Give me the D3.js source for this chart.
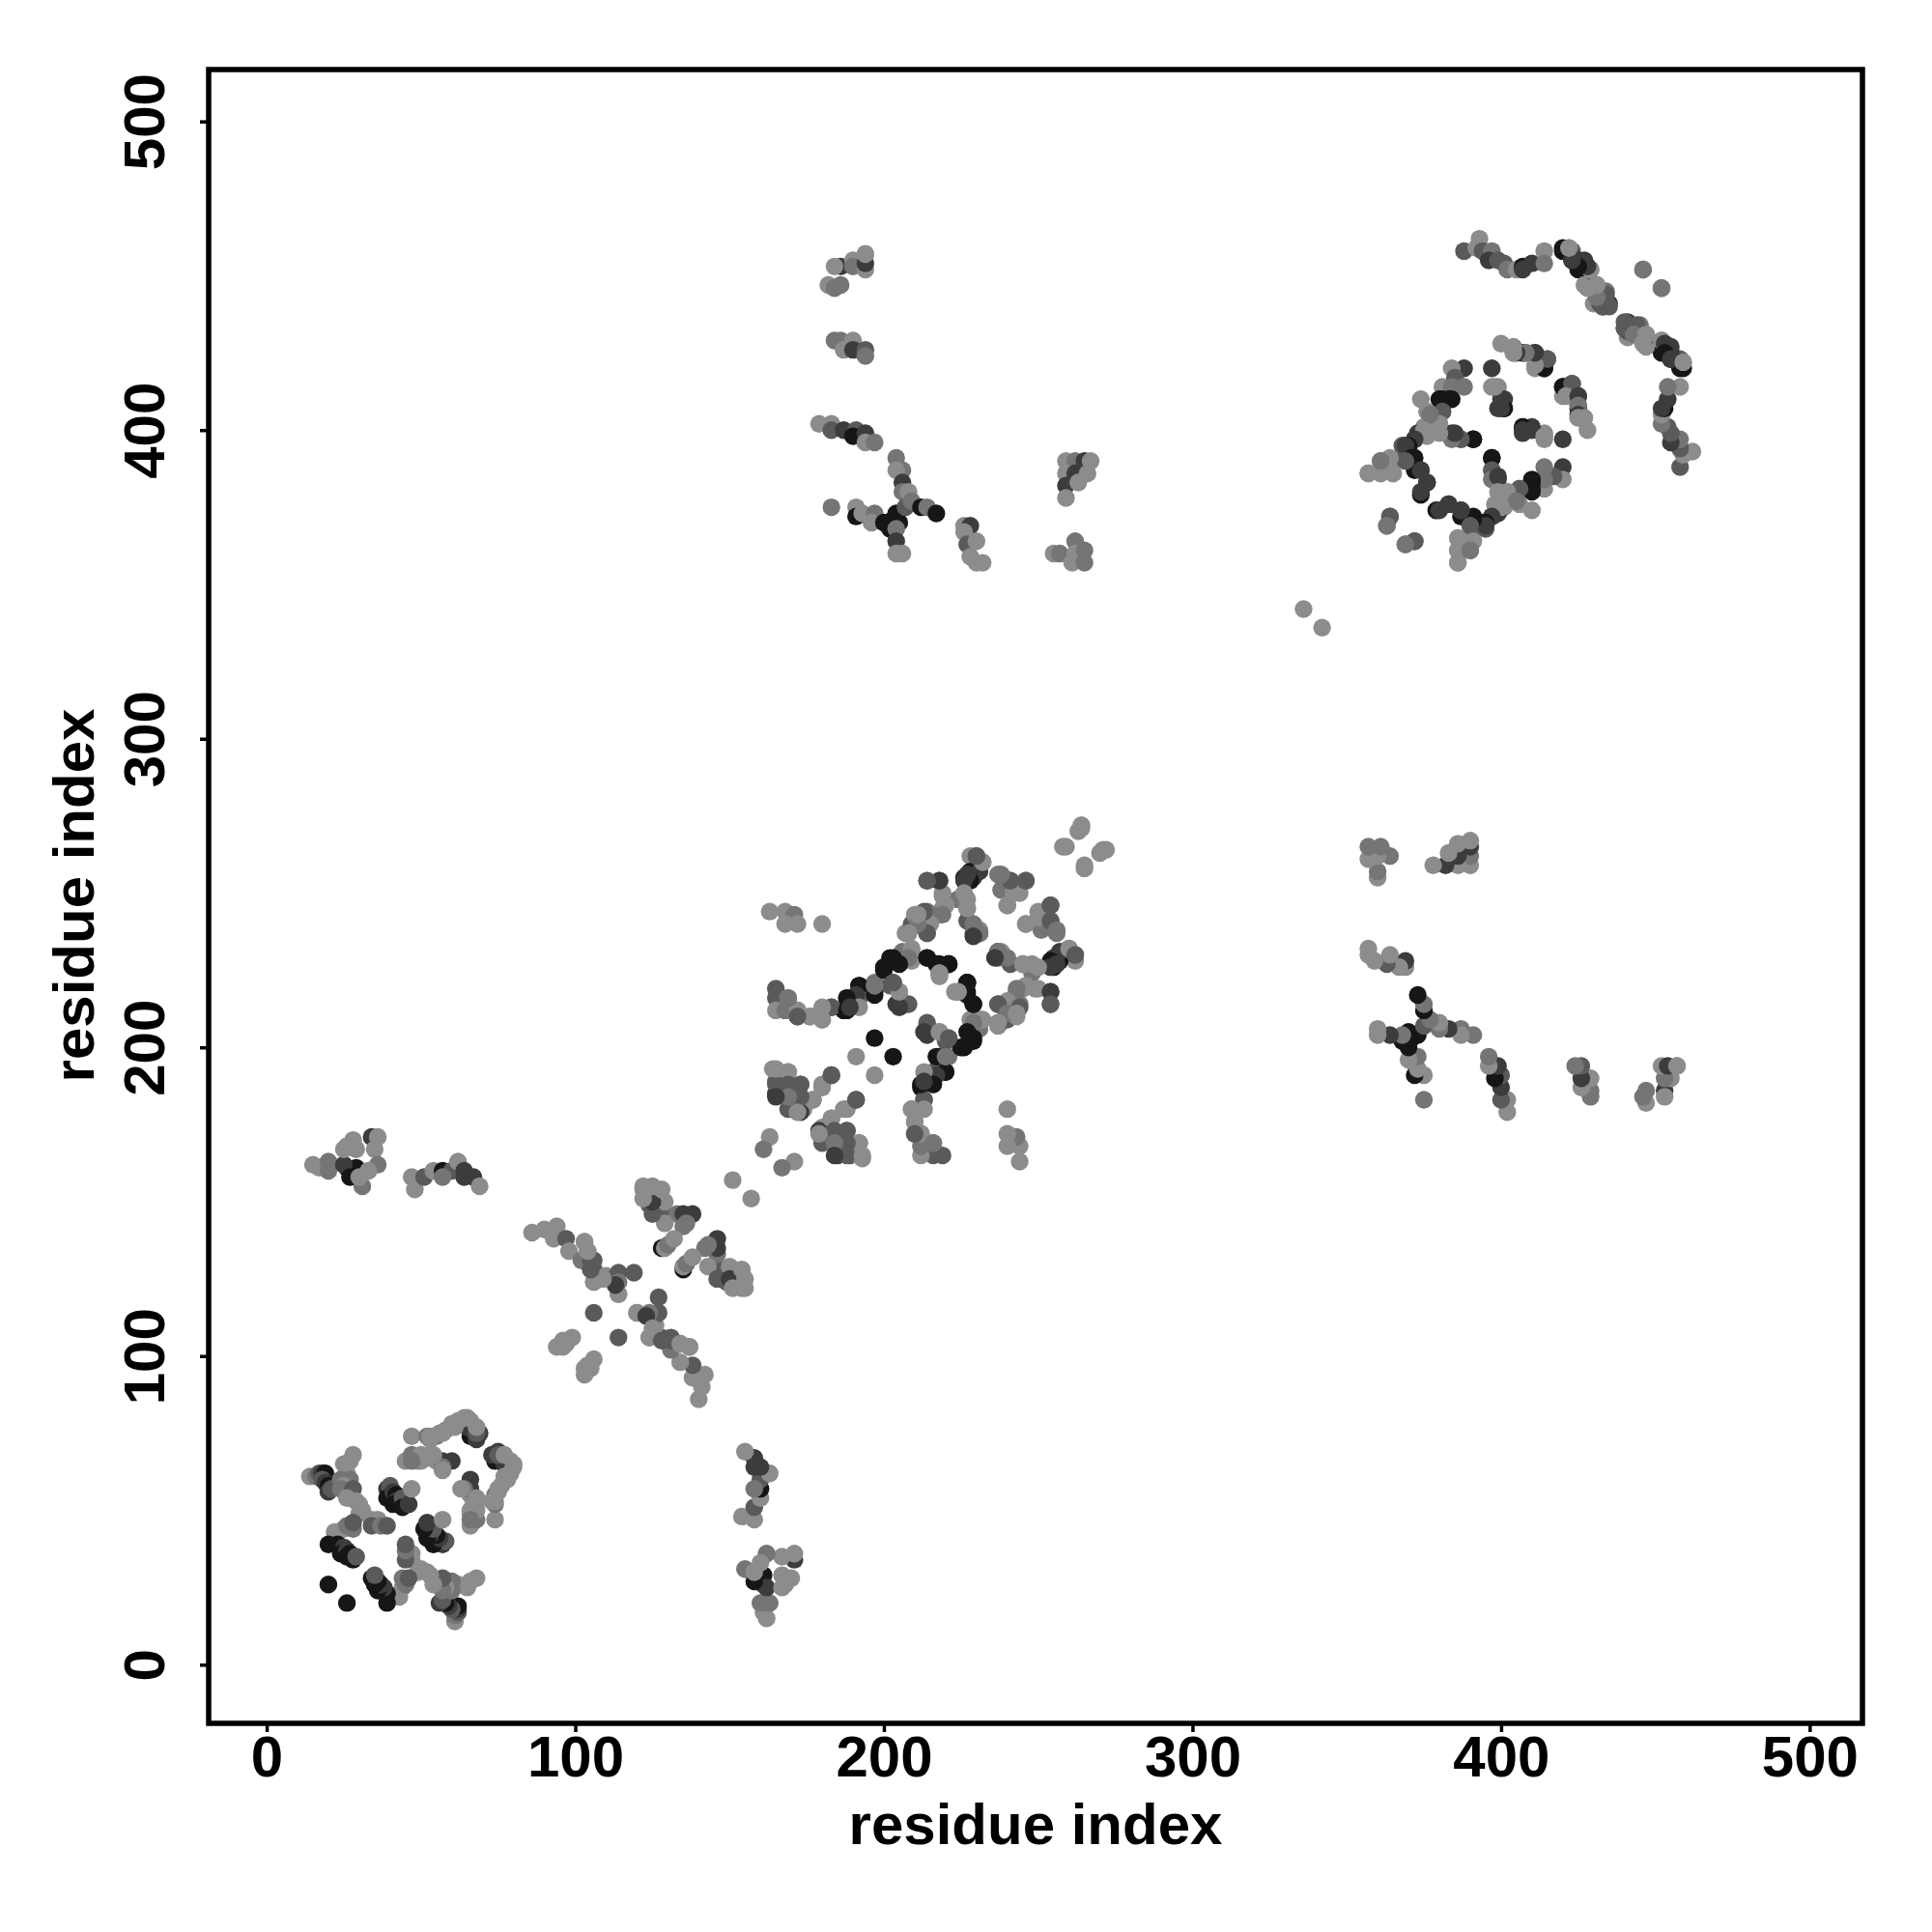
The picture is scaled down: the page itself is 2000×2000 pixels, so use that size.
<!DOCTYPE html>
<html><head><meta charset="utf-8">
<script src="https://cdn.jsdelivr.net/npm/d3@7"></script>
<style>html,body{margin:0;padding:0;background:#fff}svg{display:block}</style>
</head><body><svg id="c" width="2000" height="2000"></svg>
<script>
// Contacts: [residue i, residue j, shade level 0 (darkest) .. 4 (lightest)].
// The map is symmetric, so each contact is shown at (i,j) and (j,i).
const blockA=[[14,61,4],[16,61,3],[17,62,2],[18,62,1],[19,62,0],[18,60,2],[19,59,1],[20,58,0],[20,56,1],[21,57,2],
[28,68,4],[27,66,4],[25,65,4],[26,62,4],[24,60,3],[27,60,3],[25,58,4],[24,57,3],[28,57,2],[26,54,4],[29,53,4],[30,52,4],[31,50,4],[30,49,4],
[34,47,4],[36,47,4],[34,45,2],[37,45,3],[39,45,2],[22,43,4],[25,44,4],[26,45,3],[28,44,3],[28,46,2],
[20,39,0],[23,39,0],[24,38,0],[25,38,1],[24,36,0],[26,37,1],[27,36,0],[26,35,0],[28,34,0],[29,35,2],[20,26,0],
[39,57,1],[40,58,2],[39,54,0],[41,56,1],[42,55,0],[42,53,1],[41,52,0],[43,52,0],[44,54,2],[44,51,0],[46,52,1],[47,57,4],
[47,74,4],[52,74,3],[53,74,4],[55,74,3],[56,75,4],[58,76,4],[60,78,4],[62,79,4],[66,74,0],[65,77,1],[64,80,4],[66,79,4],[67,76,1],[69,75,1],
[45,66,4],[47,68,3],[49,66,4],[50,68,4],[52,67,4],[53,68,4],[55,66,4],[57,66,1],[60,66,1],
[68,73,1],[68,75,2],[68,77,4],[65,80,4],[61,77,4],[57,75,4],[57,64,3],[57,63,4],[54,68,4],[50,66,4],[47,66,3],[53,73,4]];
const blockB=[[15,162,4],[17,161,4],[20,163,3],[20,160,3],[26,161,0],[29,161,0],[25,162,1],[27,158,0],[28,170,4],[34,171,1],[36,171,4],[35,167,4],[29,167,4],[25,167,4],[26,168,4],[36,162,3],[33,160,4],[31,155,3],[30,158,4],
[48,154,4],[47,158,4],[51,158,2],[54,160,4],[57,160,0],[60,160,2],[57,158,3],[62,163,4],[64,160,1],[64,158,1],[67,158,1],[69,155,4]];
const blockC=[[86,140,4],[90,141,4],[94,142,4],[93,138,4],[97,138,2],[98,134,4],[103,137,4],[104,134,4],[102,131,3],[106,131,2],[106,128,2],[106,124,4],[110,126,4],[112,125,3],[114,127,2],[119,127,2],[114,124,3],[114,120,4],
[106,114,2],[94,103,4],[96,103,4],[97,104,4],[99,106,4],[96,105,4],[120,114,4],[123,113,1],[109,125,4],[106,124,4],[105,128,2],[105,131,2],[104,134,4],[103,137,4],
[122,154,4],[124,153,4],[127,153,4],[125,150,4],[124,149,2],[128,149,4],[127,148,3],[129,146,2],[133,146,3],[135,146,1],[138,146,1],[136,143,3],[135,142,3],[128,135,0],[129,135,4],[130,136,3],[132,138,4],
[129,143,4],[129,150,4],[125,146,2],[125,150,1],[128,154,4],[125,155,4],[122,151,4],[122,155,4]];
const blockD=[[163,244,4],[168,244,4],[171,243,3],[168,240,4],[172,240,4],[180,240,4],
[165,219,2],[165,216,2],[165,212,4],[169,216,4],[168,212,3],[172,212,2],[172,210,4],[176,210,4],[180,209,4],[180,212,4],[183,213,2],[187,212,0],[188,216,4],[192,220,0],[192,216,2],[197,218,1],[197,221,3],
[203,221,2],[204,214,1],[205,218,4],[207,214,2],
[200,226,0],[202,229,0],[203,228,0],[206,231,3],[209,232,4],[209,228,4],[207,237,4],[209,239,1],[209,240,2],[210,243,4],[214,244,3],[214,240,2],[214,237,3],
[214,254,3],[218,254,1],[219,249,4],[219,245,4],[218,243,3],[224,248,3],[227,248,4],[227,245,3],[227,241,2],[229,237,2],[231,237,0],[231,238,4],
[228,262,4],[230,262,2],[232,260,3],[228,257,0],[226,255,0],[229,255,1],[231,257,1],
[237,256,3],[241,254,2],[246,254,2],[239,252,0],[238,251,3],[242,250,4],[240,246,4],
[240,246,4],[244,250,4],[246,254,2],[241,254,2],[238,256,3],[228,254,0],[232,260,4],[230,262,2],[226,254,1],[227,256,1],
[231,237,3],[229,240,3],[229,236,1],[227,245,4],[226,250,4],[220,246,4],[219,250,4],[218,254,1],[214,254,2],
[219,243,3],[215,240,4],[213,244,2],[214,237,2],[211,240,3],[211,243,4],[208,237,4],
[209,231,4],[208,229,3],[205,227,0],[200,225,0],[203,229,0],[202,220,2],[192,220,0],[197,217,0],[191,217,1],[192,213,4],[183,213,2],[188,212,0],[188,216,0],[189,213,1],[180,213,4],[180,209,4],[176,210,4],[172,212,4],[172,210,2],[169,216,3],
[214,229,0],[218,227,0],[221,227,0],[218,224,4],[221,227,0],[217,227,0],[214,229,0],[221,227,0],[218,224,4],[218,224,4],[218,223,4],
[208,214,2],[205,213,1],[205,218,4],[203,221,2],[197,220,2],[197,220,3],
[197,203,0],[191,197,4],
[164,193,4],[169,192,4],[165,189,2],[165,185,1],[168,188,1],[169,180,2],[173,188,2],[172,185,2],[174,180,4],[173,179,1],[177,183,4],[180,188,4],[183,191,2],[180,187,4],[183,191,2],[177,183,4],
[173,188,2],[165,192,4],[169,192,4],[169,188,2],[173,184,2],[169,184,3],[172,179,4],[165,188,2],[165,184,1],[165,193,4],
[163,171,4],[161,167,3],[151,157,4],[258,265,4],[259,265,4],[263,270,4],[264,271,4],[264,272,4]];
const blockE=[[194,457,4],[186,453,1],[184,453,4],[190,455,4],[190,453,3],[194,452,4],[194,454,1],[194,457,4],[182,447,4],[184,446,3],[186,447,3],
[184,429,3],[186,429,3],[190,429,4],[187,426,4],[190,426,1],[194,426,2],[194,424,3],
[179,402,4],[183,402,4],[183,400,2],[187,400,1],[191,400,2],[190,398,0],[194,399,1],[194,396,4],[197,396,3],
[204,391,3],[206,387,3],[204,387,4],[206,383,1],[206,380,3],[208,380,4],
[183,375,3],[191,375,4],[191,372,0],[193,373,4],[197,373,3],[196,370,4],[200,370,0],[203,371,0],[205,370,0],[204,373,0],[202,368,0],[204,368,3],[204,364,1],[204,360,4],[206,360,4],[207,375,2],[209,377,3],[212,375,0],[214,375,3],[217,373,0],
[226,369,4],[228,369,1],[226,367,4],[227,363,2],[230,364,4],[228,359,4],[230,357,4],[232,357,4],
[259,390,4],[262,390,3],[265,390,1],[267,390,4],[259,386,4],[262,386,1],[266,386,4],[259,382,1],[263,383,4],[259,378,4],
[255,360,4],[257,360,3],[262,364,3],[262,360,4],[265,361,3],[261,357,4],[265,357,3]];
const blockF=[[388,458,2],[393,462,4],[392,459,4],[394,458,2],[397,458,3],[396,455,1],[399,455,2],[401,454,2],[402,452,3],[405,452,4],[407,453,0],[407,452,1],[410,454,1],[414,458,4],[414,454,3],
[420,458,0],[422,459,4],[423,458,2],[423,455,0],[425,455,1],[427,454,1],[425,452,0],[429,452,4],
[427,447,4],[430,447,2],[431,447,4],[434,445,3],[430,441,4],[432,441,2],[433,440,1],[435,441,1],
[446,452,3],[452,446,3],[440,435,2],[444,434,2],[440,433,2],[443,431,3],[447,431,4],[446,428,4],
[452,429,4],[453,428,1],[455,427,1],[453,425,0],[455,423,1],[456,423,1],[459,420,0],[459,422,4],
[400,428,4],[404,426,4],[404,425,4],[408,425,3],[407,425,0],[411,425,1],[411,420,4],[415,423,2],[414,420,0],
[388,420,1],[384,420,4],[385,417,2],[388,414,3],[397,420,1],[397,414,4],[399,414,4],[401,407,0],[399,407,1],[401,410,1],
[420,414,0],[423,415,2],[421,411,4],[425,411,1],[425,408,3],[425,405,1],[425,404,4],[427,404,4],
[381,414,4],[384,414,3],[381,410,0],[384,410,0],[374,410,4],[381,406,1],[376,406,4],[380,402,4],[377,400,4],[375,401,4],[373,399,1],[372,397,0],[370,394,1],[368,395,2],
[384,399,1],[387,397,3],[391,397,0],[407,401,0],[407,400,1],[410,400,1],[414,398,4],
[361,390,3],[365,390,4],[357,386,4],[361,386,4],[365,386,4],[368,392,2],[372,391,0],[372,387,0],[374,387,1],[376,383,0],[374,379,0],
[397,391,0],[397,387,2],[397,384,3],[399,385,1],[410,383,0],[410,380,0],[406,381,2],[402,380,4],[399,380,4],[405,377,3],[398,376,4],[400,375,4],[397,372,1],[395,370,0],[395,369,1],[391,371,0],[387,374,1],[383,376,1],[380,374,1],[390,369,2],
[391,364,4],[386,365,4],[386,361,4],[386,357,4],[390,361,3],[364,372,2],[363,369,3],[372,364,2],[369,363,3],[336,342,4]];
const tickValues=[0,100,200,300,400,500];
const axisTitle="residue index";

const contacts=[...blockA,...blockB,...blockC,...blockD,...blockE,...blockF];
const x=d3.scaleLinear().domain([-18.8,517.1]).range([216,1928]);
const y=d3.scaleLinear().domain([-19,516.8]).range([1784,72]);
const shade=d3.scaleLinear().domain([0,1,2,3,4]).range(["#161616","#3c3c3c","#5a5a5a","#757575","#8c8c8c"]);
const svg=d3.select("#c");
const font="'Liberation Sans',Arial,sans-serif";

svg.append("g").selectAll("circle").data(contacts.flatMap(c=>[[c[0],c[1],c[2]],[c[1],c[0],c[2]]]))
 .join("circle").attr("cx",d=>x(d[0])).attr("cy",d=>y(d[1])).attr("r",9.2).attr("fill",d=>shade(d[2]));

const styleAxis=g=>{
 g.select(".domain").remove();
 g.selectAll(".tick line").attr("stroke","#000").attr("stroke-width",3.5);
 g.selectAll(".tick text").attr("fill","#000").attr("font-family",font).attr("font-weight","bold").attr("font-size",60);
};
svg.append("g").attr("transform","translate(0,1784)")
 .call(d3.axisBottom(x).tickValues(tickValues).tickSize(9).tickPadding(0).tickFormat(d3.format("d")))
 .call(styleAxis)
 .call(g=>g.selectAll(".tick text").attr("dy",0).attr("y",55));
svg.append("g").attr("transform","translate(216,0)")
 .call(d3.axisLeft(y).tickValues(tickValues).tickSize(9).tickFormat(d3.format("d")))
 .call(styleAxis)
 .call(g=>g.selectAll(".tick text").attr("x",0).attr("dy",0).attr("text-anchor","middle").attr("transform","translate(-46,0) rotate(-90)"));
svg.append("rect").attr("x",216).attr("y",72).attr("width",1712).attr("height",1712)
 .attr("fill","none").attr("stroke","#000").attr("stroke-width",5.5);
const title=(tx,ty,rot)=>svg.append("text").attr("transform",`translate(${tx},${ty}) rotate(${rot})`)
 .attr("text-anchor","middle").attr("font-family",font).attr("font-weight","bold").attr("font-size",60).attr("fill","#000").text(axisTitle);
title(1072,1909,0);
title(97,927,-90);
</script></body></html>
